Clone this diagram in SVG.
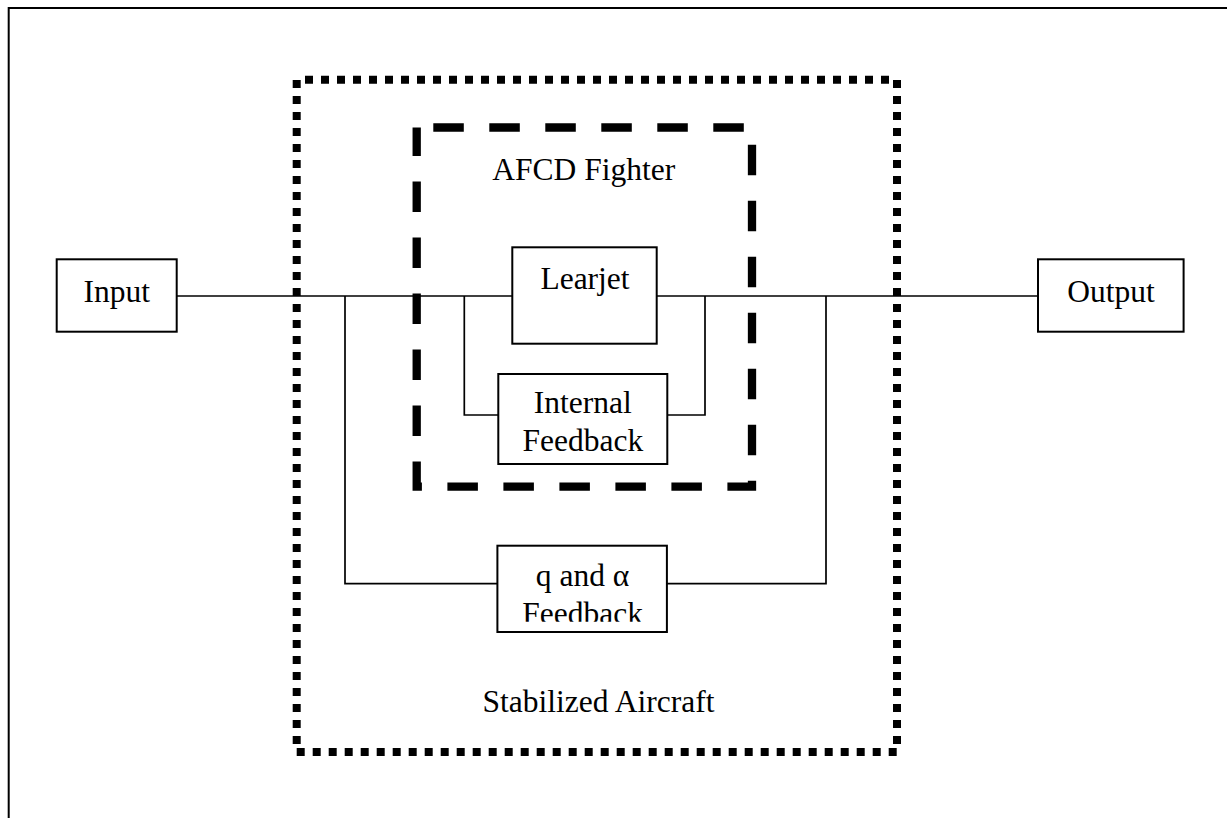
<svg xmlns="http://www.w3.org/2000/svg" width="1227" height="818" viewBox="0 0 1227 818">
<style>
.box{fill:#fff;stroke:#000;stroke-width:2}
.wire{fill:none;stroke:#000;stroke-width:1.7}
.lbl{font-family:"Liberation Serif","Times New Roman",serif;font-size:31.5px;fill:#000;text-anchor:middle}
.dot{stroke:#000;stroke-width:8;stroke-dasharray:8 8;fill:none}
.dash{fill:none;stroke:#000;stroke-width:8.3;stroke-dasharray:30.5 25.5;stroke-dashoffset:-16.6}
</style>
<defs>
<clipPath id="qclip"><rect x="497" y="545" width="171" height="76.7"/></clipPath>
</defs>
<rect width="1227" height="818" fill="#fff"/>
<path id="frame" d="M8.7 818 V8 H1227" fill="none" stroke="#000" stroke-width="2"/>
<g id="stabilized-aircraft">
<line class="dot" x1="305" y1="79.7" x2="889" y2="79.7"/>
<line class="dot" x1="897" y1="80" x2="897" y2="744"/>
<line class="dot" x1="296.7" y1="752" x2="896.7" y2="752"/>
<line class="dot" x1="296.7" y1="80" x2="296.7" y2="744"/>
<text class="lbl" x="598.5" y="711.5">Stabilized Aircraft</text>
</g>
<g id="afcd-fighter">
<rect class="dash" x="416.7" y="127.5" width="335.3" height="359.2"/>
<text class="lbl" x="583.8" y="180">AFCD Fighter</text>
</g>
<g id="connectors">
<path class="wire" d="M176.7 296 H512.3"/>
<path class="wire" d="M656.7 296 H1038"/>
<path class="wire" d="M345 296 V583.7 H497.4"/>
<path class="wire" d="M666.9 583.7 H826 V296"/>
<path class="wire" d="M464.3 296 V415 H498.3"/>
<path class="wire" d="M667.3 415 H705 V296"/>
</g>
<g id="input">
<rect class="box" x="56.7" y="259.3" width="120" height="72.4"/>
<text class="lbl" x="116.7" y="301.7">Input</text>
</g>
<g id="output">
<rect class="box" x="1038" y="259.3" width="145.6" height="72.4"/>
<text class="lbl" x="1111" y="301.7">Output</text>
</g>
<g id="learjet">
<rect class="box" x="512.3" y="247.3" width="144.4" height="96.4"/>
<text class="lbl" x="585" y="289.3">Learjet</text>
</g>
<g id="internal-feedback">
<rect class="box" x="498.3" y="374" width="169" height="90"/>
<text class="lbl" x="582.8" y="413.3">Internal</text>
<text class="lbl" x="582.8" y="450.7">Feedback</text>
</g>
<g id="q-alpha-feedback">
<rect class="box" x="497.4" y="545.7" width="169.5" height="86.3"/>
<g clip-path="url(#qclip)">
<text class="lbl" x="582.6" y="585.5">q and α</text>
<text class="lbl" x="582.6" y="623.5">Feedback</text>
</g>
</g>
</svg>
